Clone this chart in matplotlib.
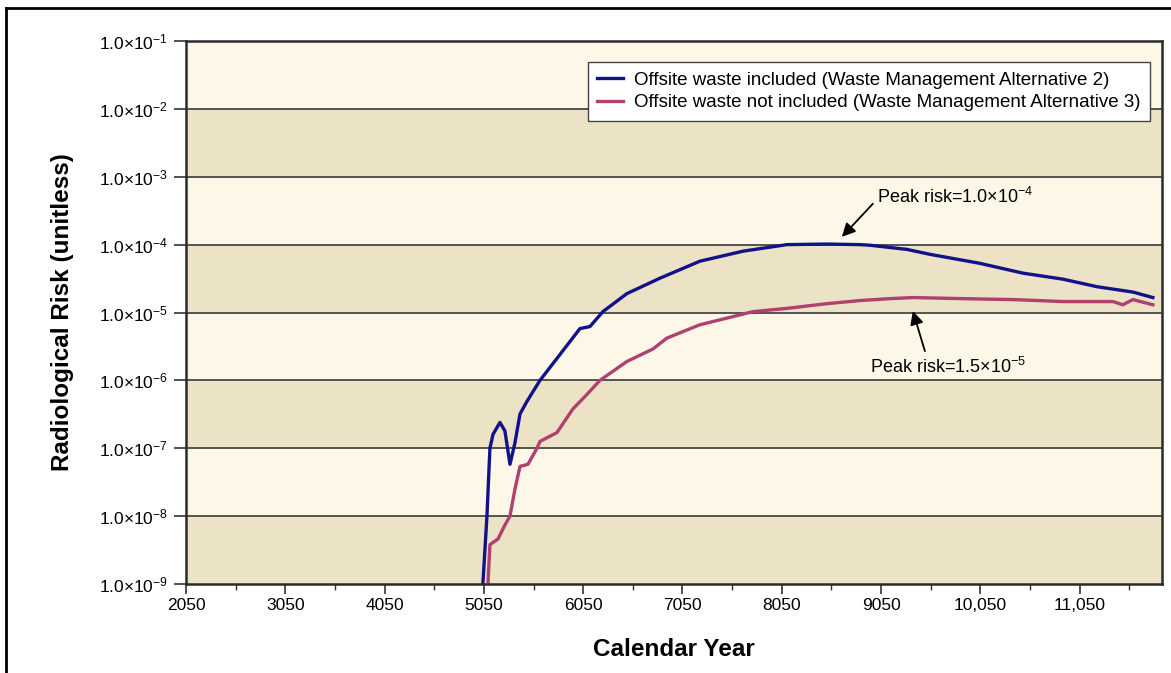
import numpy as np
import matplotlib.pyplot as plt
from matplotlib.lines import Line2D
from matplotlib.ticker import FixedLocator, NullFormatter

plt.rcParams['font.family'] = ['Liberation Sans', 'DejaVu Sans']
plt.rcParams['mathtext.fontset'] = 'custom'
plt.rcParams['mathtext.rm'] = 'Liberation Sans'
plt.rcParams['mathtext.default'] = 'regular'

# curves (calendar year, risk)
years_wma2 = [5040, 5081, 5111, 5142, 5212, 5262, 5313, 5363, 5414, 5484, 5615,
              5816, 6018, 6118, 6249, 6491, 6823, 7226, 7659, 8102, 8505, 8838,
              8938, 9311, 9542, 10046, 10479, 10882, 11224, 11587, 11788]
risk_wma2 = [1.0e-9, 1.0e-8, 1.0e-7, 1.6e-7, 2.4e-7, 1.8e-7, 5.8e-8, 1.2e-7, 3.2e-7,
             4.9e-7, 1.0e-6, 2.4e-6, 5.8e-6, 6.2e-6, 1.03e-5, 1.9e-5, 3.2e-5, 5.7e-5,
             8.0e-5, 1.0e-4, 1.02e-4, 1.0e-4, 9.8e-5, 8.5e-5, 7.2e-5, 5.3e-5, 3.8e-5,
             3.1e-5, 2.4e-5, 2.0e-5, 1.66e-5]

years_wma3 = [5091, 5111, 5192, 5262, 5313, 5363, 5414, 5494, 5585, 5615, 5786,
              5947, 6088, 6219, 6491, 6753, 6894, 7226, 7559, 7760, 8102, 8505,
              8838, 9140, 9371, 9875, 10378, 10882, 11385, 11486, 11587, 11788]
risk_wma3 = [1.0e-9, 3.8e-9, 4.6e-9, 7.4e-9, 1.0e-8, 2.5e-8, 5.4e-8, 5.8e-8, 1.0e-7,
             1.26e-7, 1.7e-7, 3.8e-7, 6.2e-7, 1.0e-6, 1.9e-6, 2.9e-6, 4.2e-6, 6.6e-6,
             8.7e-6, 1.03e-5, 1.15e-5, 1.35e-5, 1.5e-5, 1.6e-5, 1.66e-5, 1.6e-5,
             1.55e-5, 1.45e-5, 1.45e-5, 1.3e-5, 1.55e-5, 1.3e-5]

xticks = [2050, 3050, 4050, 5050, 6050, 7050, 8050, 9050, 10050, 11050]
xtick_labels = ["2050", "3050", "4050", "5050", "6050", "7050", "8050", "9050",
                "10,050", "11,050"]
decades = list(range(-9, 0))

fig = plt.figure(figsize=(11.71, 6.73), dpi=100)
ax = fig.add_axes([186 / 1171, 1 - 584 / 673, 976 / 1171, 543 / 673])

light = "#fdf7e8"
tan = "#ece2c5"
ax.set_facecolor(light)
for i, d in enumerate(decades[:-1]):
    if i % 2 == 0:
        ax.axhspan(10.0 ** d, 10.0 ** (d + 1), color=tan, zorder=0, lw=0)
for d in decades[1:]:
    ax.axhline(10.0 ** d, color="#55544c", lw=1.4, zorder=1)

ax.plot(years_wma2, risk_wma2, color="#11118a", lw=2.4, zorder=3,
        label="Offsite waste included (Waste Management Alternative 2)")
ax.plot(years_wma3, risk_wma3, color="#b0406f", lw=2.4, zorder=3,
        label="Offsite waste not included (Waste Management Alternative 3)")

ax.set_yscale("log")
ax.set_ylim(1e-9, 1e-1)
ax.set_xlim(2050, 11880)
ax.set_yticks([10.0 ** d for d in decades])
ax.set_yticklabels([r"1.0×10$^{%d}$" % d for d in decades])
ax.yaxis.set_minor_locator(FixedLocator([]))
ax.yaxis.set_minor_formatter(NullFormatter())
ax.set_xticks(xticks)
ax.set_xticklabels(xtick_labels)
ax.xaxis.set_minor_locator(FixedLocator([x + 500 for x in xticks]))

ax.tick_params(axis="y", which="major", length=9, width=1.2, labelsize=12.5,
               color="#333333", pad=4)
ax.tick_params(axis="x", which="major", length=7, width=1.2, labelsize=12.5,
               color="#333333", pad=3)
ax.tick_params(axis="x", which="minor", length=4, width=1.0, color="#333333")
for s in ax.spines.values():
    s.set_color("#2b2b2b")
    s.set_linewidth(1.8)
    s.set_zorder(4)

ax.set_xlabel("Calendar Year", fontsize=17.5, fontweight="bold", labelpad=18)
ax.set_ylabel("Radiological Risk (unitless)", fontsize=17.5, fontweight="bold",
              labelpad=18)

leg = ax.legend(loc="upper right", bbox_to_anchor=(0.988, 0.961), fontsize=13.5,
                fancybox=False, framealpha=1, edgecolor="#444444",
                handlelength=1.4, handletextpad=0.6, borderpad=0.5,
                labelspacing=0.3, borderaxespad=0)
leg.get_frame().set_linewidth(1.0)
leg.set_zorder(5)

arrow = dict(arrowstyle="-|>", color="black", lw=1.3, mutation_scale=20,
             shrinkA=0, shrinkB=0)
ax.annotate("", xy=(8656, 1.3e-4), xytext=(8968, 4.0e-4), arrowprops=arrow,
            zorder=5)
ax.text(9009, 5.1e-4, r"Peak risk=1.0×10$^{-4}$", fontsize=13, va="center",
        ha="left", zorder=5)
ax.annotate("", xy=(9371, 1.05e-5), xytext=(9492, 2.7e-6), arrowprops=arrow,
            zorder=5)
ax.text(8938, 1.6e-6, r"Peak risk=1.5×10$^{-5}$", fontsize=13, va="center",
        ha="left", zorder=5)

# outer frame (left and top edges visible in the reference)
fig.add_artist(Line2D([6 / 1171, 6 / 1171], [0, 1 - 8 / 673],
                      transform=fig.transFigure, color="black", lw=2))
fig.add_artist(Line2D([6 / 1171, 1], [1 - 8 / 673, 1 - 8 / 673],
                      transform=fig.transFigure, color="black", lw=2))

fig.savefig("out.png", dpi=100)
